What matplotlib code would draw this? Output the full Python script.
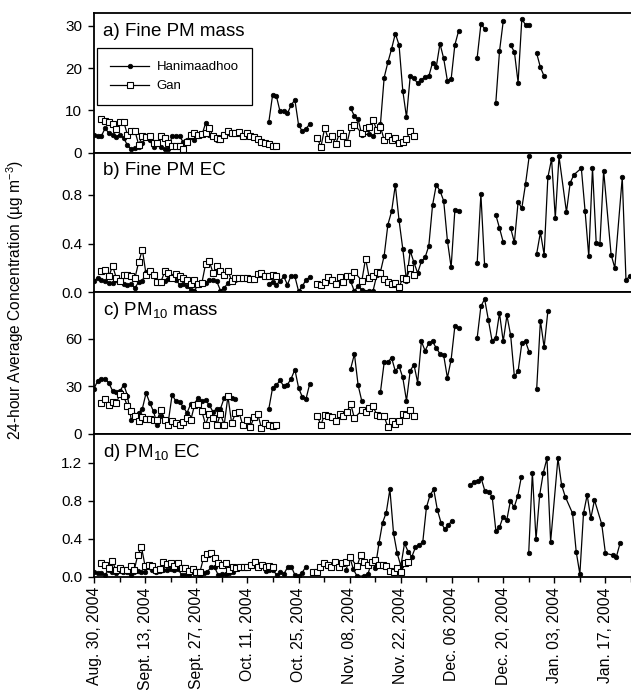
import numpy as np
import pandas as pd
import matplotlib
matplotlib.use('Agg')
import matplotlib.pyplot as plt
from matplotlib.lines import Line2D

plt.rcParams['font.family'] = ['Liberation Sans', 'DejaVu Sans']
plt.rcParams['mathtext.fontset'] = 'custom'
plt.rcParams['mathtext.rm'] = 'Liberation Sans'
plt.rcParams['mathtext.it'] = 'Liberation Sans:italic'
plt.rcParams['mathtext.bf'] = 'Liberation Sans:bold'

# ---------------- data ----------------
# each segment: (first sampling date, daily values); None = no sample that day (line still joined)
sites = ['Hanimaadhoo', 'Gan']
panel_titles = ['a) Fine PM mass', 'b) Fine PM EC', 'c) PM$_{10}$ mass', 'd) PM$_{10}$ EC']

han_fine_mass = [
    ('2004-08-30', [4.3, 4.0, 4.0, 5.8, 4.6, 4.2, 3.8, 4.2, 3.4, 1.8, 0.8, 1.0, 1.4, 2.2, 3.9, 3.0, 1.4, 2.2, 1.4, 0.8,
                    0.8, 4.0, 3.9, 3.9, 2.5, 2.9, 3.6, 3.0, 3.9, 4.2, 7.0, 4.2, 3.9, 3.0, 2.9, 4.2, 4.6, 4.6, 4.6, 4.4]),
    ('2004-10-16', [7.3, 13.6, 13.5, 9.8, 9.9, 9.3, 11.3, 12.5, 6.5, 5.1, 5.7, 6.8]),
    ('2004-11-07', [10.5, 8.7, 7.9, 4.2, None, 4.4, 3.9, 5.1, 6.8, 17.8, 21.4, 24.6, 28.2, 25.5, 14.7, 8.4, 18.1, 17.6,
                    16.4, 17.2, 18.0, 18.1, 21.3, 20.3, 25.8, 22.3, 17.0, 17.4, 25.5, 28.8]),
    ('2004-12-11', [22.5, 30.4, 29.4]),
    ('2004-12-16', [11.7, 24.0, 31.1]),
    ('2004-12-20', [25.4, 23.9, 16.6, 31.6, 30.3, 30.3]),
    ('2004-12-27', [23.5, 20.2, 18.1]),
]
gan_fine_mass = [
    ('2004-09-01', [7.9, 7.6, 7.3, 6.9, 5.5, 7.3, 7.3, 4.2, 5.2, 5.2, 1.9, 3.9, 3.6, 3.9, 2.3, 2.3, 4.0, 3.4, 2.3, 1.5,
                    1.5, 1.5, 0.8, 2.6, 4.2, 4.6, 4.2, 4.4, 4.6, 5.8, 3.9, 3.4, 3.2, 4.2, 5.2, 4.6, 4.6, 5.0, 3.9, 4.6,
                    4.0, 3.7, 3.2, 2.6, 2.2, 2.0, 1.6, 1.6]),
    ('2004-10-29', [3.5, 1.4, 5.8, 3.3, 3.9, 2.1, 4.6, 3.9, 2.2, 6.0, 6.6, None, 4.6, 5.8, 6.2, 7.7, 5.4, 6.2, 3.0, 3.9,
                    3.0, 3.4, 2.3, 2.6, 3.2, 5.2, 3.9]),
]

han_fine_ec = [
    ('2004-08-30', [0.095, 0.117, 0.104, 0.09, 0.08, 0.08, 0.104, 0.095, 0.068, 0.057, 0.068, 0.035, 0.085, 0.095,
                    0.166, 0.177, 0.13, 0.095, 0.09, 0.095, 0.112, 0.13, 0.104, 0.063, 0.068, 0.049, 0.022, 0.014,
                    0.063, 0.077, 0.077, 0.104, 0.104, 0.09, 0.014, 0.035, 0.077, 0.095, 0.104, 0.117]),
    ('2004-10-16', [0.068, 0.085, 0.063, 0.09, 0.13, 0.063, 0.137, 0.13, 0.008, 0.049, 0.104, 0.123]),
    ('2004-11-07', [0.09, 0.007, 0.055, 0.02, None, 0.01, 0.01, 0.14, 0.168, 0.30, 0.555, 0.664, 0.88, 0.59, 0.357,
                    0.095, 0.34, 0.245, 0.158, 0.253, 0.286, 0.381, 0.713, 0.88, 0.833, 0.75, 0.424, 0.205, 0.672,
                    0.664]),
    ('2004-12-11', [0.24, 0.805, 0.222]),
    ('2004-12-16', [0.636, 0.527, 0.412]),
    ('2004-12-20', [0.527, 0.409, 0.74, 0.69, 0.888, 1.12]),
    ('2004-12-27', [0.317, 0.491, 0.309, 0.942, 1.094, 0.609, 1.114, None, 0.658, 0.898, 0.964, None, 1.018, 0.669,
                    0.295, 1.018, 0.404, 0.399, 0.997, None, 0.309, 0.2, None, 0.942, 0.103, 0.13]),
]
gan_fine_ec = [
    ('2004-09-01', [0.172, 0.186, 0.13, 0.218, 0.117, 0.095, 0.145, 0.14, 0.13, 0.117, 0.246, 0.35, 0.145, 0.172,
                    0.14, 0.085, 0.085, 0.172, 0.158, 0.117, 0.15, 0.13, 0.117, 0.104, 0.068, 0.104, 0.068, 0.077,
                    0.232, 0.254, 0.158, 0.213, 0.177, 0.14, 0.177, 0.095, 0.117, 0.117, 0.117, 0.117, 0.112, 0.112,
                    0.15, 0.158, 0.13, 0.13, 0.145, 0.137]),
    ('2004-10-29', [0.068, 0.057, 0.085, 0.123, 0.104, 0.068, 0.123, 0.085, 0.13, 0.13, 0.166, None, 0.095, 0.277,
                    0.117, 0.13, 0.166, 0.158, 0.112, 0.085, 0.068, 0.077, 0.041, 0.117, 0.112, 0.2, 0.14]),
]

han_pm10_mass = [
    ('2004-08-30', [28.4, 33.5, 34.8, 34.8, 32.0, 27.0, 26.5, 27.0, 31.0, 24.0, 8.8, 11.6, 13.1, 15.8, 25.7, 19.4,
                    14.1, 5.7, 10.9, 8.8, 8.0, 24.7, 20.5, 20.0, 16.9, 13.1, 18.8, 19.0, 22.6, 20.5, 21.2, 18.0, 13.8,
                    15.8, 15.8, 22.6, 23.6, 22.6, 22.1]),
    ('2004-10-16', [15.8, 28.9, 30.6, 33.7, 30.0, 31.0, 34.8, 40.5, 28.9, 23.2, 22.1, 31.6]),
    ('2004-11-07', [41.1, 50.3, 30.6, 20.5]),
    ('2004-11-15', [26.3, 45.0, 45.4, 47.9, 39.5, 42.7, 35.5, 20.8, 39.7, 43.7, 32.3, 58.3, 52.4, 57.2, 58.3, 54.1,
                    50.5, 49.5, 35.2, 46.8, 67.8, 66.8]),
    ('2004-12-11', [60.5, 80.4, 85.1, 72.0, 58.7, 60.5, 76.2, 58.3, 74.7, 62.1, 36.2, 39.4, 57.2, 58.3, 51.4]),
    ('2004-12-27', [28.4, 71.4, 54.5, 77.3]),
]
gan_pm10_mass = [
    ('2004-09-01', [19.4, 22.1, 17.9, 20.0, 19.4, 25.1, 23.6, 17.3, 14.5, 11.0, 8.2, 10.3, 9.5, 9.5, 8.4, 8.8, 15.2,
                    8.4, 5.7, 7.8, 6.7, 5.7, 7.4, 9.9, 8.4, 17.9, 18.8, 14.1, 5.7, 12.4, 9.9, 5.3, 12.4, 5.7, 23.6,
                    6.7, 12.8, 13.4, 5.3, 8.8, 4.0, 10.3, 12.6, 3.6, 6.7, 5.7, 4.7, 5.7]),
    ('2004-10-29', [11.0, 5.7, 12.0, 11.4, 10.5, 7.8, 12.4, 11.4, 13.7, 18.8, 9.9, None, 14.8, 13.7, 16.3, 17.3, 12.0,
                    11.4, 11.0, 4.0, 7.8, 6.1, 7.8, 12.4, 12.0, 15.2, 11.0]),
]

han_pm10_ec = [
    ('2004-08-30', [0.05, 0.036, 0.036, 0.018, 0.07, 0.05, 0.036, 0.08, 0.05, 0.05, 0.018, 0.05, 0.06, 0.05, 0.05,
                    0.106, 0.07, 0.05, 0.06, 0.07, 0.07, 0.08, 0.07, 0.08, 0.018, 0.018, 0.018, 0.05, 0.05, 0.008,
                    0.036, 0.05, 0.1, 0.1, 0.018, 0.03, 0.03, 0.043, 0.05]),
    ('2004-10-16', [0.06, 0.07, 0.07, 0.018, 0.05, 0.03, 0.1, 0.106, 0.018, 0.008, 0.043, 0.106]),
    ('2004-11-07', [0.07, 0.21, 0.077, 0.007, None, 0.007, 0.028, 0.158, 0.09, 0.351, 0.569, 0.674, 0.919, 0.457,
                    0.246, 0.112, 0.351, 0.263, 0.21, 0.309, 0.333, 0.365, 0.73, 0.86, 0.919, 0.702, 0.569, 0.502,
                    0.544, 0.59]),
    ('2004-12-11', [0.965, 0.999, 1.009, 1.035, 0.902, 0.895, 0.842, 0.486, 0.52, 0.632, 0.597, 0.8, 0.73, 0.849,
                    1.053]),
    ('2004-12-27', [0.25, 1.095, 0.393, 0.86, 1.095, 1.246, 0.369, None, 1.246, 0.965, 0.842, None, 0.667, 0.263,
                    0.028, 0.667, 0.86, 0.614, 0.807, None, 0.551, 0.246, None, 0.228, 0.21, 0.351]),
]
gan_pm10_ec = [
    ('2004-09-01', [0.14, 0.12, 0.09, 0.165, 0.07, 0.09, 0.07, 0.07, 0.11, 0.07, 0.23, 0.31, 0.11, 0.12, 0.11, 0.07,
                    0.08, 0.15, 0.135, 0.14, 0.11, 0.14, 0.09, 0.095, 0.065, 0.08, 0.05, 0.05, 0.20, 0.24, 0.25,
                    0.20, 0.14, 0.12, 0.14, 0.07, 0.106, 0.09, 0.1, 0.1, 0.106, 0.12, 0.15, 0.106, 0.12, 0.1, 0.11,
                    0.106]),
    ('2004-10-29', [0.05, 0.05, 0.106, 0.14, 0.12, 0.106, 0.15, 0.106, 0.14, 0.158, 0.21, None, 0.11, 0.228, 0.15,
                    0.12, 0.15, 0.176, 0.12, 0.12, 0.11, 0.065, 0.05, 0.09, 0.05, 0.14, 0.158]),
]

y_limits = [33, 1.145, 89.3, 1.505]
y_ticks = [[0, 10, 20, 30], [0.0, 0.4, 0.8], [0, 30, 60], [0.0, 0.4, 0.8, 1.2]]
y_ticklabels = [['0', '10', '20', '30'], ['0.0', '0.4', '0.8'], ['0', '30', '60'], ['0.0', '0.4', '0.8', '1.2']]

x_start = '2004-08-30'
x_span_days = 144.35
x_tick_labels = ['Aug. 30, 2004', 'Sept. 13, 2004', 'Sept. 27, 2004', 'Oct. 11, 2004', 'Oct. 25, 2004',
                 'Nov. 08, 2004', 'Nov. 22, 2004', 'Dec. 06 2004', 'Dec. 20, 2004', 'Jan. 03, 2004',
                 'Jan. 17, 2004']

panels = [(han_fine_mass, gan_fine_mass), (han_fine_ec, gan_fine_ec),
          (han_pm10_mass, gan_pm10_mass), (han_pm10_ec, gan_pm10_ec)]

# ---------------- styles ----------------
han_style = dict(color='black', lw=0.9, marker='o', ms=3.3, mfc='black', mec='black', mew=0.5)
gan_style = dict(color='black', lw=0.9, marker='s', ms=4.3, mfc='white', mec='black', mew=0.8)


def draw(ax, segments, style):
    for start, vals in segments:
        v = np.array([np.nan if x is None else x for x in vals], dtype=float)
        d = pd.date_range(start, periods=len(v), freq='D')
        m = ~np.isnan(v)
        ax.plot(d[m], v[m], **style)


W, H = 631, 690
fig = plt.figure(figsize=(W / 100, H / 100), dpi=100)
left_px, right_px = 94, 631
bounds = [13.3, 152.7, 292.3, 433.7, 576.7]

x0 = pd.Timestamp(x_start)
x1 = x0 + pd.Timedelta(days=x_span_days)
major = pd.date_range(x_start, periods=len(x_tick_labels), freq='14D')
minor = pd.date_range(x0 + pd.Timedelta(days=7), periods=len(x_tick_labels), freq='14D')

axes = []
for i in range(4):
    top, bot = bounds[i], bounds[i + 1]
    ax = fig.add_axes([left_px / W, 1 - bot / H, (right_px - left_px) / W, (bot - top) / H])
    han, gan = panels[i]
    draw(ax, han, han_style)
    draw(ax, gan, gan_style)
    ax.set_xlim(x0, x1)
    ax.set_ylim(0, y_limits[i])
    ax.set_yticks(y_ticks[i])
    ax.set_yticklabels(y_ticklabels[i], fontsize=11)
    ax.tick_params(axis='y', direction='out', length=4.5, width=1.0, pad=4)
    for s in ['top', 'bottom', 'left']:
        ax.spines[s].set_linewidth(1.3)
    ax.spines['right'].set_visible(False)
    ax.text(0.016, 0.87, panel_titles[i], transform=ax.transAxes, fontsize=13.5, va='center', ha='left')
    if i < 3:
        ax.tick_params(axis='x', which='both', bottom=False, labelbottom=False)
    else:
        ax.set_xticks(major)
        ax.set_xticklabels(x_tick_labels, rotation=90, fontsize=11.3)
        ax.set_xticks(minor, minor=True)
        ax.tick_params(axis='x', which='major', direction='out', length=4.5, width=1.0, pad=3)
        ax.tick_params(axis='x', which='minor', direction='out', length=3.5, width=1.0)
    axes.append(ax)

handles = [Line2D([], [], **han_style), Line2D([], [], **gan_style)]
leg = axes[0].legend(handles, sites, loc='upper left', bbox_to_anchor=(0.006, 0.751), fontsize=9.5,
                     frameon=True, fancybox=False, edgecolor='black', framealpha=1, handlelength=2.9,
                     handletextpad=0.6, borderpad=1.0, labelspacing=0.5, borderaxespad=0)
leg.get_frame().set_linewidth(0.9)

fig.text(15 / W, 1 - 300 / H, '24-hour Average Concentration (\u00b5g m$^{-3}$)', rotation=90,
         va='center', ha='center', fontsize=11.2)

fig.savefig('out.png', dpi=100)
